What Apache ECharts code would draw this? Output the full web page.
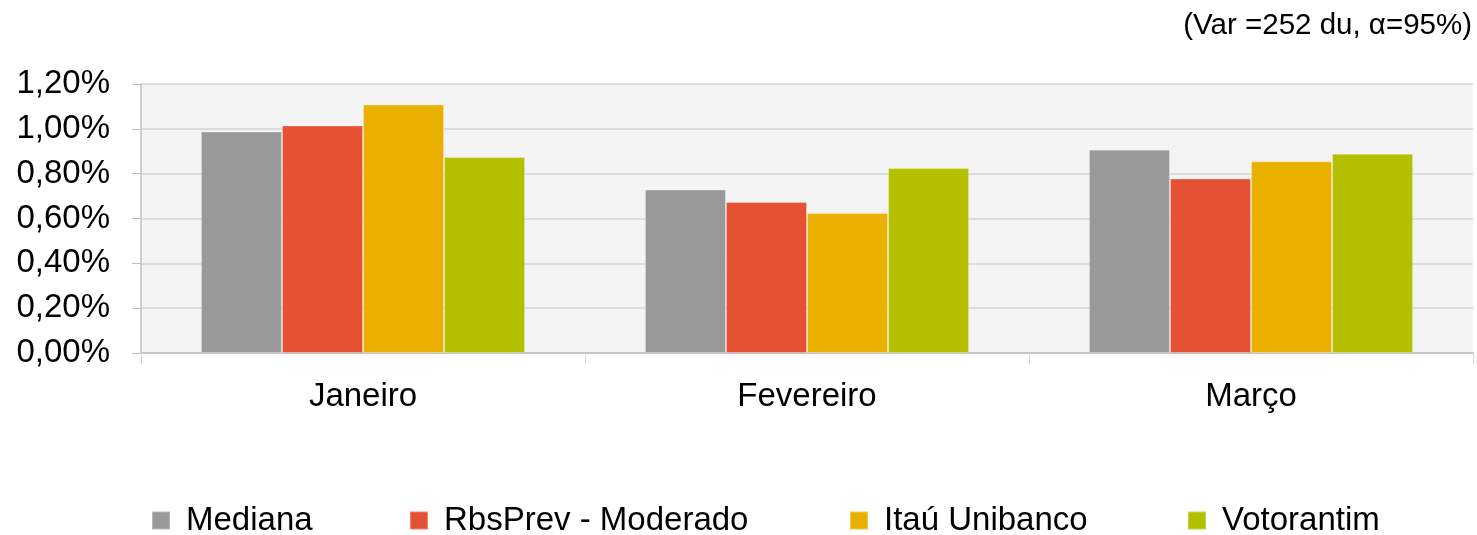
<!DOCTYPE html>
<html>
<head>
<meta charset="utf-8">
<script src="https://cdn.jsdelivr.net/npm/echarts@6/dist/echarts.min.js"></script>
<style>
html,body{margin:0;padding:0;background:#fff;}
#chart{width:1477px;height:535px;}
</style>
</head>
<body>
<div id="chart"></div>
<script>
const categories = ['Janeiro', 'Fevereiro', 'Março'];
const seriesNames = ['Mediana', 'RbsPrev - Moderado', 'Itaú Unibanco', 'Votorantim'];
const mediana = [0.988, 0.729, 0.907];
const rbsPrev = [1.015, 0.674, 0.778];
const itau = [1.109, 0.625, 0.855];
const votorantim = [0.874, 0.825, 0.889];
const colors = ['#999999', '#e55133', '#eab000', '#b4bf00'];
const subtitleText = '(Var =252 du, α=95%)';

const FONT = '"Liberation Sans", Arial, sans-serif';
const values = [mediana, rbsPrev, itau, votorantim];
const legendLefts = [146, 404, 844, 1182];

const chart = echarts.init(document.getElementById('chart'), null, {renderer: 'canvas'});
chart.setOption({
  animation: false,
  color: colors,
  title: {
    text: subtitleText,
    right: 0,
    top: 6,
    textStyle: {fontFamily: FONT, fontSize: 29.5, fontWeight: 'normal', color: '#000'}
  },
  grid: {
    left: 141, right: 4, top: 84, bottom: 182,
    show: true, backgroundColor: '#f4f4f4', borderWidth: 0
  },
  legend: seriesNames.map((name, i) => ({
    left: legendLefts[i],
    top: 499,
    itemWidth: 18,
    itemHeight: 18,
    icon: 'rect',
    textStyle: {fontFamily: FONT, fontSize: 33, color: '#000', padding: [0, 0, 0, 11]},
    data: [name]
  })),
  xAxis: {
    type: 'category',
    data: categories,
    boundaryGap: true,
    axisLine: {show: true, lineStyle: {color: '#bfbfbf', width: 1.5}},
    axisTick: {show: true, length: 11, lineStyle: {color: '#d9d9d9'}},
    axisLabel: {fontFamily: FONT, fontSize: 33, color: '#000', margin: 27}
  },
  yAxis: {
    type: 'value',
    min: 0,
    max: 1.2,
    interval: 0.2,
    axisLine: {show: true, lineStyle: {color: '#bfbfbf', width: 1.5}},
    axisTick: {show: true, length: 9, lineStyle: {color: '#bfbfbf'}},
    splitLine: {show: true, lineStyle: {color: '#d4d4d4', width: 1.5}},
    axisLabel: {
      fontFamily: FONT, fontSize: 33, color: '#000', margin: 31,
      formatter: v => v.toFixed(2).replace('.', ',') + '%'
    }
  },
  series: seriesNames.map((name, i) => ({
    name: name,
    type: 'bar',
    data: values[i],
    barGap: '0%',
    barCategoryGap: '27%',
    itemStyle: {borderColor: 'rgba(255,255,255,0.3)', borderWidth: 1}
  }))
});
</script>
</body>
</html>
